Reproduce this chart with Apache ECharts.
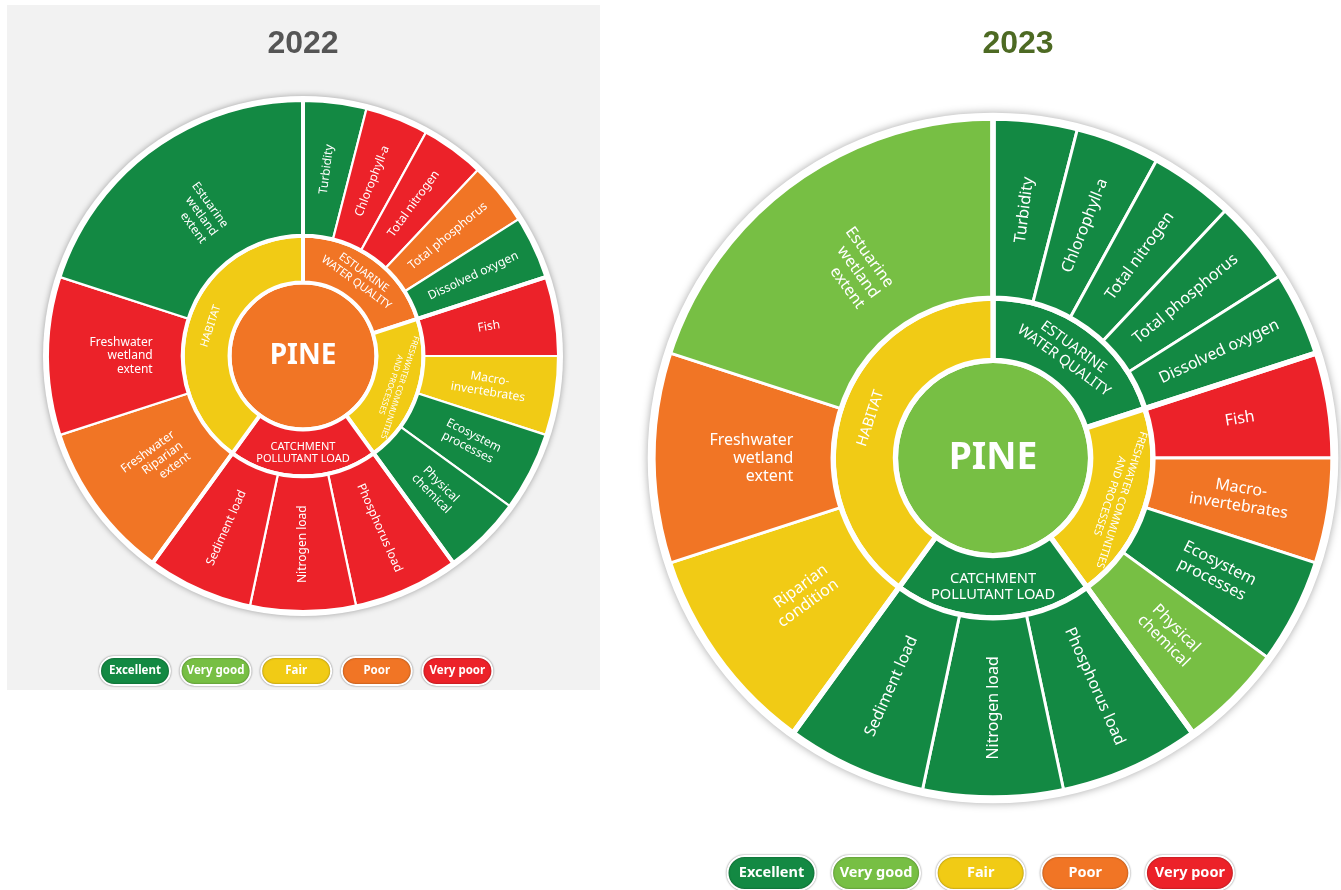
<!DOCTYPE html>
<html>
<head>
<meta charset="utf-8">
<script src="https://cdn.jsdelivr.net/npm/echarts@6/dist/echarts.min.js"></script>
<style>
html,body{margin:0;padding:0;background:#fff;}
#chart{width:1341px;height:890px;}
</style>
</head>
<body>
<div id="chart"></div>
<script>
// ---------------- DATA ----------------
const statusNames = ['Excellent', 'Very good', 'Fair', 'Poor', 'Very poor'];
const statusColors = ['#138943', '#77bf44', '#f1cb15', '#f17525', '#ec2229'];

const years = ['2022', '2023'];
const catchmentName = 'PINE';
const groupNames = ['ESTUARINE\nWATER QUALITY', 'FRESHWATER COMMUNITIES\nAND PROCESSES', 'CATCHMENT\nPOLLUTANT LOAD', 'HABITAT'];

const estuarineIndicators = ['Turbidity', 'Chlorophyll-a', 'Total nitrogen', 'Total phosphorus', 'Dissolved oxygen'];
const freshwaterIndicators = ['Fish', 'Macro-\ninvertebrates', 'Ecosystem\nprocesses', 'Physical\nchemical'];
const catchmentIndicators = ['Phosphorus load', 'Nitrogen load', 'Sediment load'];
const habitatIndicators2022 = ['Freshwater\nRiparian\nextent', 'Freshwater\nwetland\nextent', 'Estuarine\nwetland\nextent'];
const habitatIndicators2023 = ['Riparian\ncondition', 'Freshwater\nwetland\nextent', 'Estuarine\nwetland\nextent'];

// angular share of each indicator (degrees, read from the wheel)
const estuarineShare = [14.4, 14.4, 14.4, 14.4, 14.4];
const freshwaterShare = [18, 18, 18, 18];
const catchmentShare = [24, 24, 24];
const habitatShare = [36, 36, 72];

// grades 2022
const overall2022 = 'Poor';
const groupGrades2022 = ['Poor', 'Fair', 'Very poor', 'Fair'];
const estuarineGrades2022 = ['Excellent', 'Very poor', 'Very poor', 'Poor', 'Excellent'];
const freshwaterGrades2022 = ['Very poor', 'Fair', 'Excellent', 'Excellent'];
const catchmentGrades2022 = ['Very poor', 'Very poor', 'Very poor'];
const habitatGrades2022 = ['Poor', 'Very poor', 'Excellent'];

// grades 2023
const overall2023 = 'Very good';
const groupGrades2023 = ['Excellent', 'Fair', 'Excellent', 'Fair'];
const estuarineGrades2023 = ['Excellent', 'Excellent', 'Excellent', 'Excellent', 'Excellent'];
const freshwaterGrades2023 = ['Very poor', 'Poor', 'Excellent', 'Very good'];
const catchmentGrades2023 = ['Excellent', 'Excellent', 'Excellent'];
const habitatGrades2023 = ['Fair', 'Poor', 'Very good'];

// ---------------- BUILD ----------------
const FONT = '"Noto Sans", "DejaVu Sans", sans-serif';
function col(g) { return statusColors[statusNames.indexOf(g)]; }
function sum(a) { return a.reduce((s, v) => s + v, 0); }
const allShares = [estuarineShare, freshwaterShare, catchmentShare, habitatShare];

function buildTree(overall, groupGrades, habitatNames, leafGrades, scale) {
  const leafNames = [estuarineIndicators, freshwaterIndicators, catchmentIndicators, habitatNames];
  const children = groupNames.map((gName, gi) => {
    const names = leafNames[gi], shares = allShares[gi], grades = leafGrades[gi];
    const node = {
      name: gName,
      itemStyle: { color: col(groupGrades[gi]) },
      children: names.map((n, i) => {
        const leaf = { name: n, value: shares[i], itemStyle: { color: col(grades[i]) } };
        if (n === 'Nitrogen load') leaf.label = { rotate: 90 };
        if (gi === 3) leaf.label = { align: 'left', distance: 30 * scale };
        return leaf;
      })
    };
    if (gi === 1) node.label = { rotate: -108, fontSize: 8 * scale, lineHeight: 9.5 * scale };
    return node;
  });
  return [{ name: catchmentName, itemStyle: { color: col(overall) }, children }];
}

function makeSeries(center, R, scale, tree) {
  const rIn = R * 0.287, rMid = R * 0.47;
  return [
    {
      type: 'pie', center: center, radius: [0, R + 4 * scale], silent: true, z: 1,
      animation: false, label: { show: false }, labelLine: { show: false },
      itemStyle: { color: '#ffffff', shadowBlur: 6 * scale, shadowColor: 'rgba(0,0,0,0.35)' },
      data: [{ value: 1, name: 'rim' }]
    },
    {
      type: 'sunburst', center: center, radius: [0, R], sort: null, nodeClick: false,
      z: 2, animation: false,
      emphasis: { focus: 'none' },
      label: { color: '#fff', fontFamily: FONT },
      levels: [
        {},
        { r0: 0, r: rIn, itemStyle: { borderColor: '#fff', borderWidth: 4 * scale },
          label: { rotate: 0, fontSize: 28 * scale, fontWeight: 'bold' } },
        { r0: rIn, r: rMid, itemStyle: { borderColor: '#fff', borderWidth: 4 * scale },
          label: { rotate: 'tangential', fontSize: 11 * scale, lineHeight: 12.5 * scale } },
        { r0: rMid, r: R, itemStyle: { borderColor: '#fff', borderWidth: 2.2 * scale },
          label: { rotate: 'radial', fontSize: 12 * scale, lineHeight: 13.5 * scale } }
      ],
      data: tree
    },
    {
      // thicker white separators between indicator groups on the outer ring
      type: 'pie', center: center, radius: [rMid, R], silent: true, z: 3,
      animation: false, label: { show: false }, labelLine: { show: false },
      itemStyle: { color: 'rgba(0,0,0,0)', borderColor: '#fff', borderWidth: 4 * scale },
      data: allShares.map((s, i) => ({ value: sum(s), name: 'g' + i }))
    }
  ];
}

function legendGraphics(x0, step, y, w, h, fs) {
  return statusNames.map((s, i) => ({
    type: 'group', x: x0 + i * step, y: y, silent: true,
    children: [
      { type: 'rect', shape: { x: -w / 2, y: -h / 2, width: w, height: h, r: h / 2 },
        style: { fill: statusColors[i], stroke: '#fff', lineWidth: 2, shadowBlur: 2, shadowColor: 'rgba(0,0,0,0.45)' } },
      { type: 'text', x: 0, y: 0,
        style: { text: s, fill: '#fff', fontSize: fs, fontWeight: 'bold', fontFamily: FONT, align: 'center', verticalAlign: 'middle' } }
    ]
  }));
}

const chart = echarts.init(document.getElementById('chart'), null, { renderer: 'canvas' });

const tree2022 = buildTree(overall2022, groupGrades2022, habitatIndicators2022,
  [estuarineGrades2022, freshwaterGrades2022, catchmentGrades2022, habitatGrades2022], 1);
const tree2023 = buildTree(overall2023, groupGrades2023, habitatIndicators2023,
  [estuarineGrades2023, freshwaterGrades2023, catchmentGrades2023, habitatGrades2023], 1.33);

chart.setOption({
  animation: false,
  graphic: [
    { type: 'rect', z: -10, silent: true, shape: { x: 7, y: 5, width: 593, height: 685 }, style: { fill: '#f2f2f2' } },
    { type: 'text', x: 303, y: 44, silent: true,
      style: { text: years[0], fill: '#555555', fontSize: 32, fontWeight: 'bold', fontFamily: '"Liberation Sans", Arial, sans-serif', align: 'center', verticalAlign: 'middle' } },
    { type: 'text', x: 1018, y: 44, silent: true,
      style: { text: years[1], fill: '#4d6a23', fontSize: 32, fontWeight: 'bold', fontFamily: '"Liberation Sans", Arial, sans-serif', align: 'center', verticalAlign: 'middle' } },
    ...legendGraphics(135, 80.6, 671, 70, 28, 11.5),
    ...legendGraphics(771.5, 104.6, 873, 88, 34, 14.5)
  ],
  series: [
    ...makeSeries([303, 356], 256, 1, tree2022),
    ...makeSeries([993, 458], 340, 1.33, tree2023)
  ]
});
</script>
</body>
</html>
